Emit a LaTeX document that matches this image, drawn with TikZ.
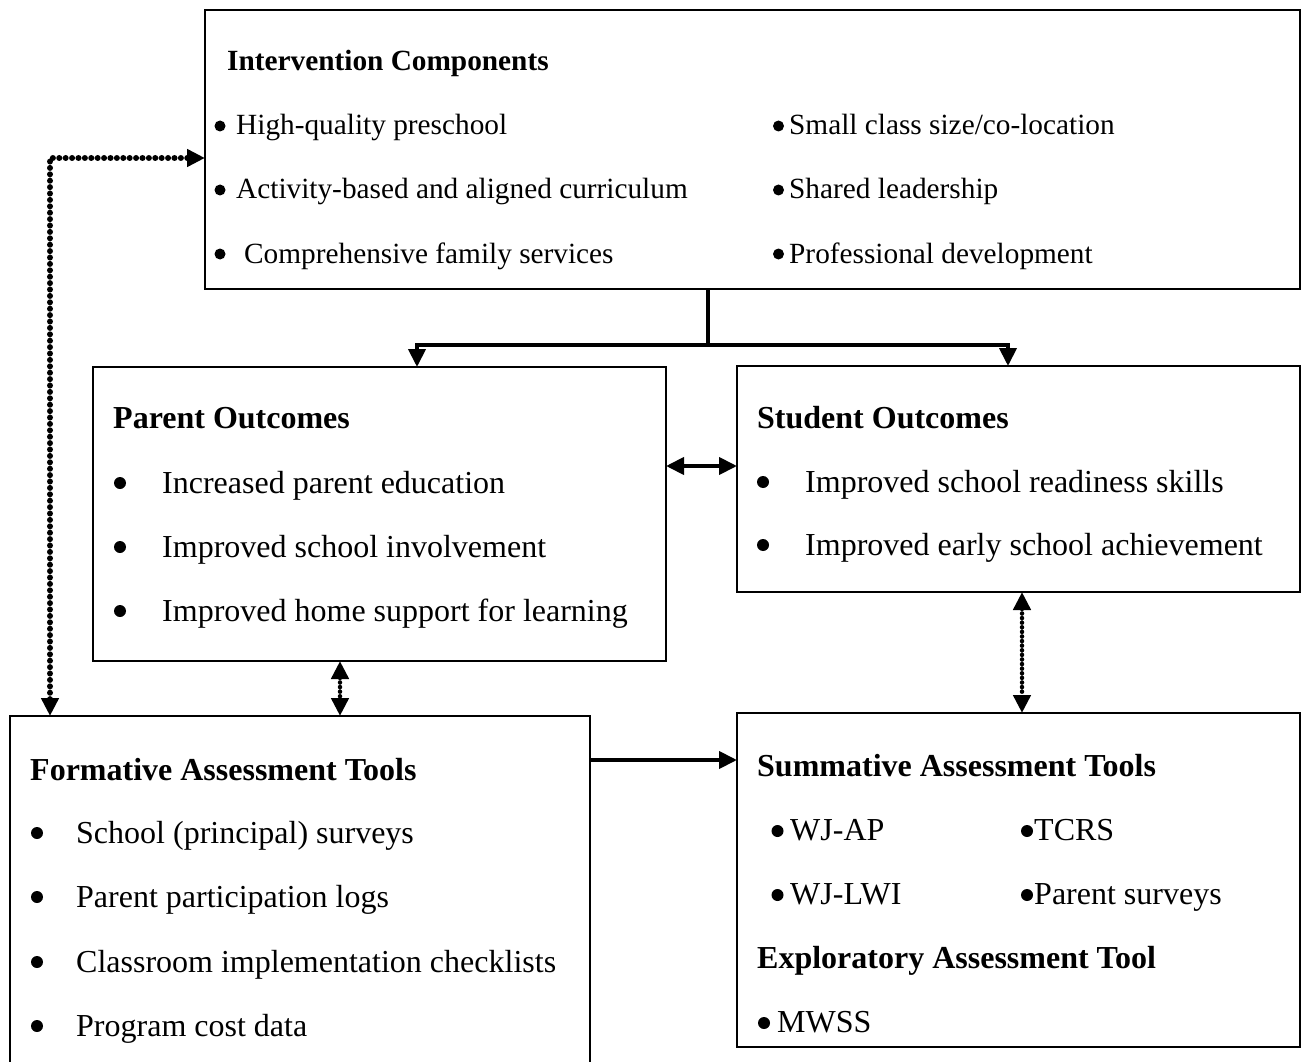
\documentclass[tikz,border=0pt]{standalone}
\usepackage{fontspec}
\setmainfont{Liberation Serif}
\usetikzlibrary{arrows.meta,calc}
\tikzset{
  box/.style={draw, line width=2pt, inner sep=0pt, outer sep=0pt},
  txt/.style={anchor=base west, inner sep=0pt, font=\fontsize{32}{38}\selectfont},
  itxt/.style={anchor=base west, inner sep=0pt, font=\fontsize{29.3}{35}\selectfont},
  bul/.style={circle, fill, inner sep=0pt, minimum size=12pt},
  ibul/.style={circle, fill, inner sep=0pt, minimum size=11pt},
  conn/.style={line width=4pt, -{Triangle[length=18pt,width=17pt]}},
  dconn/.style={line width=4pt, {Triangle[length=18pt,width=17pt]}-{Triangle[length=18pt,width=17pt]}},
  bigdots/.style={line width=6pt, line cap=round, dash pattern=on 0pt off 6.4pt,
    {Triangle[length=18pt,width=17pt]}-{Triangle[length=18pt,width=17pt]}},
  smalldots/.style={line width=4.5pt, line cap=round, dash pattern=on 0pt off 4.6pt,
    {Triangle[length=18pt,width=17pt]}-{Triangle[length=18pt,width=17pt]}},
}
\begin{document}
\begin{tikzpicture}[x=1pt,y=-1pt]
\useasboundingbox (0,0) rectangle (1302,1062);
\clip (0,0) rectangle (1302,1062);
% boxes
\node[box, minimum width=1095pt, minimum height=279pt] (int) at (752.5,149.5) {};
\node[box, minimum width=573pt, minimum height=294pt] (par) at (379.5,514) {};
\node[box, minimum width=563pt, minimum height=226pt] (stu) at (1018.5,479) {};
\node[box, minimum width=580pt, minimum height=400pt] (for) at (300,916) {};
\node[box, minimum width=563pt, minimum height=334pt] (sum) at (1018.5,880) {};

% intervention text
\node[itxt] (ih) at (227,71) {\bfseries Intervention Components};
\node[ibul] (ib1) at (220,126) {};
\node[ibul] (ib2) at (220,190) {};
\node[ibul] (ib3) at (220,254) {};
\node[ibul] (ib4) at (778.5,126) {};
\node[ibul] (ib5) at (778.5,190) {};
\node[ibul] (ib6) at (778.5,254) {};
\node[itxt] (i1) at (236,135) {High-quality preschool};
\node[itxt] (i2) at (236,199) {Activity-based and aligned curriculum};
\node[itxt] (i3) at (244,263) {Comprehensive family services};
\node[itxt] (i4) at (789,135) {Small class size/co-location};
\node[itxt] (i5) at (789,199) {Shared leadership};
\node[itxt] (i6) at (789,263) {Professional development};

% parent outcomes
\node[txt] (ph) at (113,428) {\bfseries Parent Outcomes};
\node[bul] (pb1) at (120,483) {};
\node[bul] (pb2) at (120,547) {};
\node[bul] (pb3) at (120,611) {};
\node[txt] (p1) at (162,493) {Increased parent education};
\node[txt] (p2) at (162,557) {Improved school involvement};
\node[txt] (p3) at (162,621) {Improved home support for learning};

% student outcomes
\node[txt] (sh) at (757,428) {\bfseries Student Outcomes};
\node[bul] (sb1) at (763,482) {};
\node[bul] (sb2) at (763,545) {};
\node[txt] (s1) at (805,492) {Improved school readiness skills};
\node[txt] (s2) at (805,555) {Improved early school achievement};

% formative
\node[txt] (fh) at (30,780) {\bfseries Formative Assessment Tools};
\node[bul] (fb1) at (37,833) {};
\node[bul] (fb2) at (37,897) {};
\node[bul] (fb3) at (37,962) {};
\node[bul] (fb4) at (37,1026) {};
\node[txt] (f1) at (76,843) {School (principal) surveys};
\node[txt] (f2) at (76,907) {Parent participation logs};
\node[txt] (f3) at (76,972) {Classroom implementation checklists};
\node[txt] (f4) at (76,1036) {Program cost data};

% summative
\node[txt] (mh) at (757,776) {\bfseries Summative Assessment Tools};
\node[bul] (mb1) at (777.5,831) {};
\node[bul] (mb2) at (1027,831) {};
\node[bul] (mb3) at (777.5,895) {};
\node[bul] (mb4) at (1027,895) {};
\node[txt] (m1) at (790,840) {WJ-AP};
\node[txt] (m2) at (1034,840) {TCRS};
\node[txt] (m3) at (790,904) {WJ-LWI};
\node[txt] (m4) at (1034,904) {Parent surveys};
\node[txt] (mh2) at (757,968) {\bfseries Exploratory Assessment Tool};
\node[bul] (mb5) at (764,1023) {};
\node[txt] (m5) at (777,1032) {MWSS};

% connectors
\coordinate (split) at (708,345);
\coordinate (pl) at (417,345);
\coordinate (sr) at (1008,345);
\draw[line width=4pt] (int.south -| split) -- (split);
\draw[conn] (split) -- (pl) -- (pl |- par.north);
\draw[conn] (split) -- (sr) -- (sr |- stu.north);

\coordinate (ylink) at (0,466);
\draw[dconn] (par.east |- ylink) -- (stu.west |- ylink);

\coordinate (xpf) at (340,0);
\draw[smalldots] (par.south -| xpf) -- (for.north -| xpf);
\coordinate (xss) at (1022,0);
\draw[smalldots] (stu.south -| xss) -- (sum.north -| xss);

\coordinate (corner) at (50,158);
\draw[bigdots] (for.north -| corner) -- (corner) -- (int.west |- corner);

\coordinate (yfs) at (0,760);
\draw[conn] (for.east |- yfs) -- (sum.west |- yfs);
\end{tikzpicture}
\end{document}
